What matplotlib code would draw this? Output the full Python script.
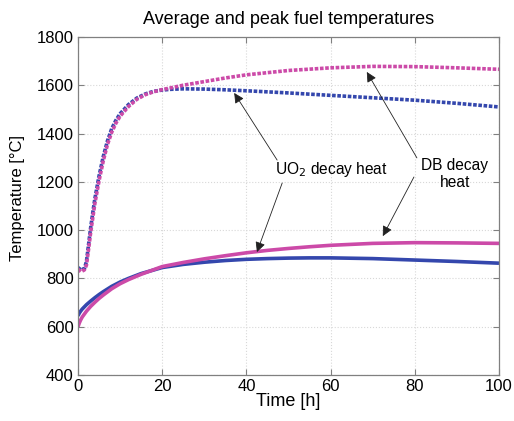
import numpy as np
import matplotlib
matplotlib.use("Agg")
import matplotlib.pyplot as plt

plt.rcParams['font.family'] = ['Liberation Sans', 'DejaVu Sans']

# Peak fuel temperature, UO2 decay heat
t_peak = [0, 0.7, 1.5, 2, 2.5, 3, 3.5, 4, 5, 6, 7, 8, 9, 10, 12, 14, 16, 18,
          20, 22, 25, 30, 35, 40, 50, 60, 70, 80, 90, 100]
peak_uo2 = [845, 835, 840, 870, 940, 1010, 1072, 1130, 1225, 1305, 1370, 1420,
            1455, 1482, 1520, 1547, 1564, 1575, 1580, 1583, 1585, 1584, 1581,
            1577, 1568, 1558, 1548, 1538, 1525, 1510]
# Peak fuel temperature, DB decay heat
peak_db = [838, 828, 835, 855, 920, 990, 1050, 1110, 1205, 1287, 1355, 1405,
           1443, 1472, 1512, 1542, 1561, 1573, 1582, 1589, 1600, 1615, 1630,
           1643, 1661, 1672, 1678, 1677, 1672, 1666]

# Average fuel temperature
t_avg = [0, 0.3, 0.6, 1, 2, 3, 4, 5, 6, 8, 10, 12, 15, 20, 25, 30, 35, 40, 45,
         50, 55, 60, 70, 80, 90, 100]
avg_uo2 = [645, 656, 664, 673, 691, 706, 720, 733, 745, 767, 785, 800, 820,
           845, 858, 867, 874, 879, 882, 884, 885, 885, 882, 876, 870, 863]
avg_db = [600, 615, 627, 640, 664, 684, 701, 717, 731, 757, 778, 795, 817,
          849, 866, 881, 894, 906, 916, 924, 931, 937, 945, 948, 947, 945]

x_ticks = [0, 20, 40, 60, 80, 100]
y_ticks = [400, 600, 800, 1000, 1200, 1400, 1600, 1800]

blue = '#3447ad'
pink = '#cc4aa8'

fig = plt.figure(figsize=(5.14, 4.21), dpi=100)
ax = fig.add_axes([0.1518, 0.1093, 0.819, 0.803])

ax.plot(t_avg, avg_uo2, color=blue, lw=2.6, solid_capstyle='butt')
ax.plot(t_avg, avg_db, color=pink, lw=2.6, solid_capstyle='butt')
ax.plot(t_peak, peak_uo2, color=blue, lw=2.6, linestyle=(0, (1.0, 0.45)))
ax.plot(t_peak, peak_db, color=pink, lw=2.6, linestyle=(0, (1.0, 0.45)))

ax.set_xlim(0, 100)
ax.set_ylim(400, 1800)
ax.set_xticks(x_ticks)
ax.set_yticks(y_ticks)
ax.tick_params(direction='in', length=4, color='#808080', labelsize=12,
               top=True, right=True)
ax.tick_params(axis='x', pad=3)
ax.tick_params(axis='y', pad=3)
for s in ax.spines.values():
    s.set_color('#808080')
    s.set_linewidth(0.9)
ax.grid(True, color='#d8d8d8', linestyle=':', linewidth=0.8)
ax.set_axisbelow(True)

ax.set_title('Average and peak fuel temperatures', fontsize=13, pad=9)
ax.set_xlabel('Time [h]', fontsize=13, labelpad=-1)
ax.set_ylabel('Temperature [°C]', fontsize=12)
ax.yaxis.set_label_coords(-0.125, 0.525)

arrow = dict(arrowstyle='-|>', color='#222222', lw=0.6, mutation_scale=15,
             shrinkA=0, shrinkB=0)

ax.text(60.3, 1253, 'UO$_2$ decay heat', fontsize=11.2, ha='center',
        va='center')
ax.annotate('', xy=(37.1, 1568), xytext=(47.3, 1290), arrowprops=arrow)
ax.annotate('', xy=(42.5, 909), xytext=(48.5, 1195), arrowprops=arrow)

ax.text(89.5, 1233, 'DB decay\nheat', fontsize=11.2, ha='center', va='center',
        linespacing=1.15)
ax.annotate('', xy=(68.6, 1655), xytext=(80.5, 1299), arrowprops=arrow)
ax.annotate('', xy=(72.4, 975), xytext=(79.8, 1220), arrowprops=arrow)

fig.savefig('out.png', dpi=100)
